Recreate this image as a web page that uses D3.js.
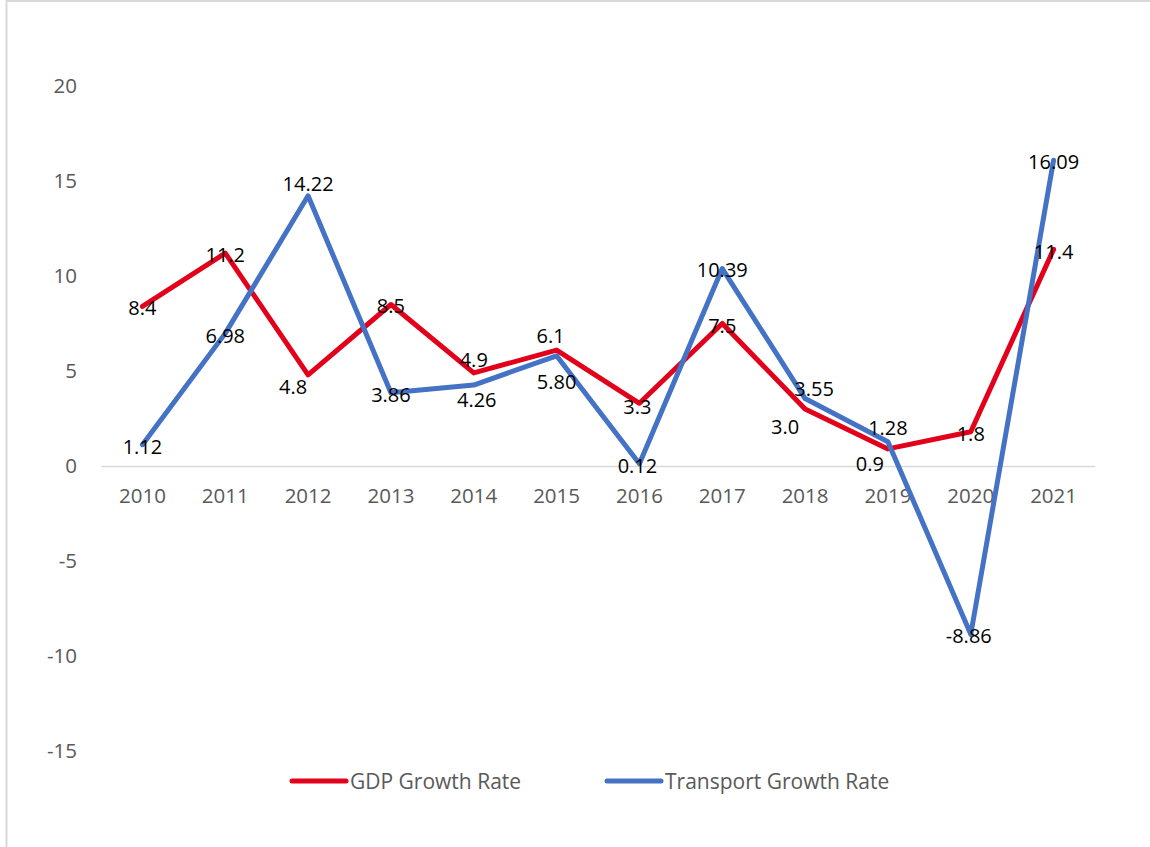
<!DOCTYPE html>
<html>
<head>
<meta charset="utf-8">
<script src="https://cdn.jsdelivr.net/npm/d3@7/dist/d3.min.js"></script>
<style>
  html, body { margin: 0; padding: 0; background: #fff; }
  svg { display: block; }
</style>
</head>
<body>
<script>
// ---- data ----
const years = ["2010","2011","2012","2013","2014","2015","2016","2017","2018","2019","2020","2021"];
const gdpGrowth = [8.4, 11.2, 4.8, 8.5, 4.9, 6.1, 3.3, 7.5, 3.0, 0.9, 1.8, 11.4];
const transportGrowth = [1.12, 6.98, 14.22, 3.86, 4.26, 5.80, 0.12, 10.39, 3.55, 1.28, -8.86, 16.09];
const gdpLabels = ["8.4","11.2","4.8","8.5","4.9","6.1","3.3","7.5","3.0","0.9","1.8","11.4"];
const transportLabels = ["1.12","6.98","14.22","3.86","4.26","5.80","0.12","10.39","3.55","1.28","-8.86","16.09"];
const yTicks = [-15, -10, -5, 0, 5, 10, 15, 20];
const seriesNames = ["GDP Growth Rate", "Transport Growth Rate"];

// ---- layout (label nudges in px, relative to each point) ----
const gdpLabelNudge = [[0,1],[0,2],[-15,12],[0,1],[0,-13],[-6,-14],[-2,3],[0,2],[-20,18],[-18,15],[0,2],[0,2]];
const trLabelNudge  = [[0,2],[0,2],[0,-12],[0,2],[3,15],[0,26],[-2,2],[0,1],[9,-10],[0,-14],[-2,1],[0,2]];

const W = 1150, H = 847;
const red = "#E2001A", blue = "#4472C4";
const font = "'Open Sans', 'Noto Sans', sans-serif";

const svg = d3.select("body").append("svg").attr("width", W).attr("height", H);

// chart border
svg.append("rect").attr("x", 6.5).attr("y", 1).attr("width", 1160).attr("height", 870)
  .attr("fill", "none").attr("stroke", "#d9d9d9").attr("stroke-width", 2);

const x = d3.scaleBand().domain(years).range([101, 1095]);
const y = d3.scaleLinear().domain([-15, 20]).range([751, 86]);
const cx = d => x(d) + x.bandwidth() / 2;

// y axis labels
const yAxis = d3.axisLeft(y).tickValues(yTicks).tickSize(0).tickPadding(0).tickFormat(d => String(d));
const gy = svg.append("g").attr("transform", "translate(77,0)").call(yAxis);
gy.select(".domain").remove();
gy.selectAll("text").attr("font-family", font).attr("font-size", 20.5).attr("fill", "#595959");

// zero line + x labels
const xAxis = d3.axisBottom(x).tickSize(0).tickPadding(22);
const gx = svg.append("g").attr("transform", `translate(0,${y(0)})`).call(xAxis);
gx.select(".domain").attr("stroke", "#d9d9d9").attr("stroke-width", 1.5);
gx.selectAll("text").attr("font-family", font).attr("font-size", 20.5).attr("fill", "#595959");

const line = d3.line().x((d, i) => cx(years[i])).y(d => y(d)).curve(d3.curveLinear);

svg.append("path").datum(gdpGrowth).attr("d", line)
  .attr("fill", "none").attr("stroke", red).attr("stroke-width", 5)
  .attr("stroke-linejoin", "round").attr("stroke-linecap", "round");
svg.append("path").datum(transportGrowth).attr("d", line)
  .attr("fill", "none").attr("stroke", blue).attr("stroke-width", 5)
  .attr("stroke-linejoin", "round").attr("stroke-linecap", "round");

function labels(vals, texts, nudge) {
  svg.append("g").selectAll("text").data(vals).join("text")
    .attr("x", (d, i) => cx(years[i]) + nudge[i][0])
    .attr("y", (d, i) => y(d) + nudge[i][1])
    .attr("dy", "0.36em")
    .attr("text-anchor", "middle")
    .attr("font-family", font).attr("font-size", 20).attr("fill", "#000")
    .text((d, i) => texts[i]);
}
labels(gdpGrowth, gdpLabels, gdpLabelNudge);
labels(transportGrowth, transportLabels, trLabelNudge);

// legend
const legend = [
  {name: seriesNames[0], color: red, x1: 292, x2: 346, tx: 350},
  {name: seriesNames[1], color: blue, x1: 607, x2: 661, tx: 665}
];
const lg = svg.append("g");
legend.forEach(l => {
  lg.append("line").attr("x1", l.x1).attr("x2", l.x2).attr("y1", 781).attr("y2", 781)
    .attr("stroke", l.color).attr("stroke-width", 5).attr("stroke-linecap", "round");
  lg.append("text").attr("x", l.tx).attr("y", 781).attr("dy", "0.36em")
    .attr("font-family", font).attr("font-size", 21).attr("fill", "#595959")
    .text(l.name);
});
</script>
</body>
</html>
